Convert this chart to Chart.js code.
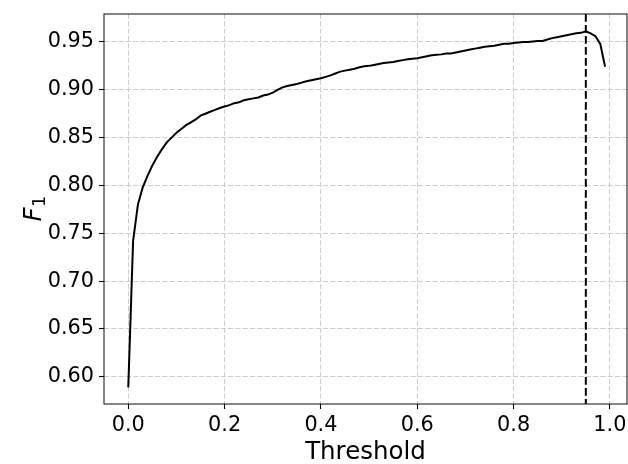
<!DOCTYPE html>
<html>
<head>
<meta charset="utf-8">
<script src="https://cdn.jsdelivr.net/npm/chart.js@4.4.1/dist/chart.umd.min.js"></script>
<style>
  html, body { margin: 0; padding: 0; background: #fff; }
  canvas { display: block; }
</style>
</head>
<body>
<canvas id="chart" width="628" height="464"></canvas>
<script>
// Decision threshold sweep and the F1 score obtained at each threshold
const thresholds = [
  0.00, 0.01, 0.02, 0.03, 0.04, 0.05, 0.06, 0.07, 0.08, 0.09,
  0.10, 0.11, 0.12, 0.13, 0.14, 0.15, 0.16, 0.17, 0.18, 0.19,
  0.20, 0.21, 0.22, 0.23, 0.24, 0.25, 0.26, 0.27, 0.28, 0.29,
  0.30, 0.31, 0.32, 0.33, 0.34, 0.35, 0.36, 0.37, 0.38, 0.39,
  0.40, 0.41, 0.42, 0.43, 0.44, 0.45, 0.46, 0.47, 0.48, 0.49,
  0.50, 0.51, 0.52, 0.53, 0.54, 0.55, 0.56, 0.57, 0.58, 0.59,
  0.60, 0.61, 0.62, 0.63, 0.64, 0.65, 0.66, 0.67, 0.68, 0.69,
  0.70, 0.71, 0.72, 0.73, 0.74, 0.75, 0.76, 0.77, 0.78, 0.79,
  0.80, 0.81, 0.82, 0.83, 0.84, 0.85, 0.86, 0.87, 0.88, 0.89,
  0.90, 0.91, 0.92, 0.93, 0.94, 0.95, 0.96, 0.97, 0.98, 0.99
];

const f1Scores = [
  0.589, 0.742, 0.780, 0.798, 0.810, 0.821, 0.830, 0.838, 0.845, 0.850,
  0.855, 0.859, 0.863, 0.866, 0.869, 0.873, 0.875, 0.877, 0.879, 0.881,
  0.8825, 0.884, 0.886, 0.887, 0.889, 0.890, 0.891, 0.892, 0.894, 0.895,
  0.897, 0.900, 0.9025, 0.904, 0.905, 0.906, 0.9075, 0.909, 0.910, 0.911,
  0.912, 0.9135, 0.915, 0.917, 0.919, 0.920, 0.921, 0.922, 0.9235, 0.9245,
  0.925, 0.926, 0.927, 0.928, 0.9285, 0.929, 0.930, 0.931, 0.932, 0.9325,
  0.933, 0.934, 0.935, 0.936, 0.9365, 0.937, 0.938, 0.938, 0.939, 0.940,
  0.941, 0.942, 0.943, 0.944, 0.945, 0.9455, 0.946, 0.947, 0.948, 0.948,
  0.949, 0.9495, 0.950, 0.950, 0.9505, 0.951, 0.951, 0.9525, 0.954, 0.955,
  0.956, 0.957, 0.958, 0.959, 0.9595, 0.961, 0.959, 0.956, 0.948, 0.924
];

// Threshold giving the best F1, marked with a dashed vertical line
const bestThreshold = 0.95;

const xTicks = [0.0, 0.2, 0.4, 0.6, 0.8, 1.0];
const xTickLabels = ['0.0', '0.2', '0.4', '0.6', '0.8', '1.0'];
const yTicks = [0.60, 0.65, 0.70, 0.75, 0.80, 0.85, 0.90, 0.95];
const yTickLabels = ['0.60', '0.65', '0.70', '0.75', '0.80', '0.85', '0.90', '0.95'];

const FONT = "'DejaVu Sans', 'Liberation Sans', sans-serif";

const gridStyle = {
  color: '#cccccc',
  lineWidth: 1,
  drawTicks: true,
  tickLength: 5,
  tickColor: '#000000',
  tickWidth: 1.1
};

// Fixed axis box sizes; drop the label overhang padding so the plot area stays put
function fixBox(size) {
  return s => {
    if (s.isHorizontal()) s.height = size; else s.width = size;
    s.paddingTop = 0;
    s.paddingBottom = 0;
    s.paddingLeft = 0;
    s.paddingRight = 0;
  };
}

// Frame, best-threshold marker and axis titles
const decorations = {
  id: 'decorations',
  afterDatasetsDraw(chart) {
    const { ctx, chartArea: a, scales: { x } } = chart;
    const px = x.getPixelForValue(bestThreshold);
    ctx.save();
    ctx.strokeStyle = '#000';
    ctx.lineWidth = 2;
    ctx.setLineDash([7.7, 3.3]);
    ctx.beginPath();
    ctx.moveTo(px, a.top);
    ctx.lineTo(px, a.bottom);
    ctx.stroke();
    ctx.restore();
  },
  afterDraw(chart) {
    const { ctx, chartArea: a } = chart;
    ctx.save();
    ctx.strokeStyle = '#222';
    ctx.lineWidth = 1.1;
    ctx.setLineDash([]);
    ctx.strokeRect(a.left, a.top, a.right - a.left, a.bottom - a.top);

    // x-axis title
    ctx.fillStyle = '#000';
    ctx.font = `24.5px ${FONT}`;
    ctx.textAlign = 'center';
    ctx.textBaseline = 'alphabetic';
    ctx.fillText('Threshold', (a.left + a.right) / 2, 459);

    // y-axis title: italic F with subscript 1, rotated
    ctx.translate(41, (a.top + a.bottom) / 2);
    ctx.rotate(-Math.PI / 2);
    ctx.font = `oblique 24.5px ${FONT}`;
    const fW = ctx.measureText('F').width;
    ctx.font = `17px ${FONT}`;
    const sW = ctx.measureText('1').width;
    const total = fW + sW;
    ctx.textAlign = 'left';
    ctx.font = `oblique 24.5px ${FONT}`;
    ctx.fillText('F', -total / 2, 0);
    ctx.font = `17px ${FONT}`;
    ctx.fillText('1', -total / 2 + fW + 0.5, 4);
    ctx.restore();
  }
};

new Chart(document.getElementById('chart'), {
  type: 'line',
  data: {
    datasets: [{
      data: thresholds.map((t, i) => ({ x: t, y: f1Scores[i] })),
      borderColor: '#000000',
      borderWidth: 2,
      pointRadius: 0,
      tension: 0,
      fill: false
    }]
  },
  options: {
    responsive: false,
    animation: false,
    devicePixelRatio: 1,
    layout: { autoPadding: false, padding: { top: 14, right: 1, left: 0, bottom: 0 } },
    plugins: { legend: { display: false }, tooltip: { enabled: false } },
    scales: {
      x: {
        type: 'linear',
        min: -0.0504,
        max: 1.0355,
        grid: gridStyle,
        border: { display: false, dash: [5.1, 2.2] },
        afterBuildTicks: s => { s.ticks = xTicks.map(v => ({ value: v })); },
        afterFit: fixBox(60),
        ticks: {
          color: '#000',
          font: { family: FONT, size: 20.8 },
          padding: 4,
          maxRotation: 0,
          autoSkip: false,
          callback: (v, i) => xTickLabels[i]
        }
      },
      y: {
        type: 'linear',
        min: 0.5716,
        max: 0.9792,
        grid: gridStyle,
        border: { display: false, dash: [5.1, 2.2] },
        afterBuildTicks: s => { s.ticks = yTicks.map(v => ({ value: v })); },
        afterFit: fixBox(104),
        ticks: {
          color: '#000',
          font: { family: FONT, size: 20.8 },
          padding: 5,
          autoSkip: false,
          callback: (v, i) => yTickLabels[i]
        }
      }
    }
  },
  plugins: [decorations]
});
</script>
</body>
</html>
